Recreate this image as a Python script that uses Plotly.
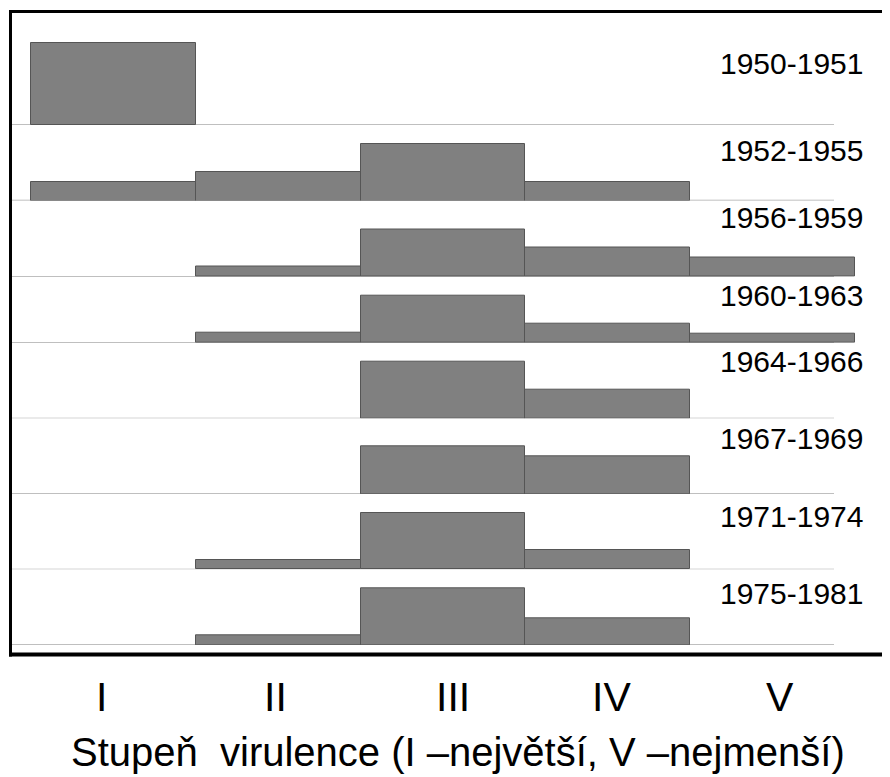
import plotly.graph_objects as go

# ---------------- data ----------------
periods = ["1950-1951", "1952-1955", "1956-1959", "1960-1963",
           "1964-1966", "1967-1969", "1971-1974", "1975-1981"]
grades = ["I", "II", "III", "IV", "V"]
grade_pos = [1, 2, 3, 4, 5]
axis_title = "Stupeň  virulence (I –největší, V –nejmenší)"

# relative share of virulence grades in each period (approx. %), None = absent
v_1950_1951 = [86, None, None, None, None]
v_1952_1955 = [19.3, 29.5, 59, 19.3, None]
v_1956_1959 = [None, 10.5, 50, 30.5, 20.5]
v_1960_1963 = [None, 10.5, 50, 20.5, 10]
v_1964_1966 = [None, None, 60, 30, None]
v_1967_1969 = [None, None, 50.5, 40, None]
v_1971_1974 = [None, 10, 59.5, 20.5, None]
v_1975_1981 = [None, 10, 59.5, 28.5, None]
series = [v_1950_1951, v_1952_1955, v_1956_1959, v_1960_1963,
          v_1964_1966, v_1967_1969, v_1971_1974, v_1975_1981]

# ---------------- layout geometry ----------------
# the html page body has an 8px margin, so the figure sits at (8, 8) in the window
PAGE = 8
W, H = 890 - PAGE, 777 - PAGE
ML, MR, MT = 10 - PAGE, 0, 11 - PAGE
plot_bottom_ref = 655
MB = H - (plot_bottom_ref - PAGE)
plot_h = H - MT - MB
plot_w = W - ML - MR

# positions below are in window pixels
row_top = [11, 125, 200.5, 276.7, 342.7, 418.3, 494, 569.3]
row_base = [125, 200.5, 276.7, 342.7, 418.3, 494, 569.3, 645]
label_cy = [63, 151, 217.3, 295.3, 361.3, 438, 516.3, 593]
PX_PER_UNIT = 0.95
bar_left_px, bar_w_px = 31, 164.8
baseline_end_px = 834
tick_px = [101.7, 275, 453.3, 611.7, 780]
tick_cy = 697
title_cx, title_cy = 458, 752


def py2paper(py):
    return (plot_bottom_ref - py) / plot_h


def px2paper(px):
    return (px - PAGE - ML) / plot_w


def px2x(px):
    return 1 + (px - (bar_left_px + bar_w_px / 2)) / bar_w_px


x_lo, x_hi = px2x(ML + PAGE), px2x(W + PAGE - MR)

FONT = "Liberation Sans, Arial, Helvetica, sans-serif"
BAR = "#808080"
EDGE = "#555555"

fig = go.Figure()
layout_axes = {}
shapes = []
annotations = []

for i, (name, vals) in enumerate(zip(periods, series)):
    yname = "y" if i == 0 else f"y{i + 1}"
    ykey = "yaxis" if i == 0 else f"yaxis{i + 1}"
    fig.add_trace(go.Bar(
        x=grade_pos, y=vals, name=name, xaxis="x", yaxis=yname,
        width=1, marker=dict(color=BAR, line=dict(color=EDGE, width=1)),
        showlegend=False, hoverinfo="skip",
    ))
    layout_axes[ykey] = dict(
        domain=[py2paper(row_base[i]), py2paper(row_top[i])],
        range=[0, (row_base[i] - row_top[i]) / PX_PER_UNIT],
        visible=False, fixedrange=True, anchor="x",
    )
    shapes.append(dict(type="line", xref="x", yref=yname,
                       x0=x_lo, x1=px2x(baseline_end_px), y0=0, y1=0,
                       line=dict(color="#aaaaaa", width=1.3), layer="below"))
    annotations.append(dict(text=name, xref="paper", yref="paper",
                            x=px2paper(865), y=py2paper(label_cy[i]),
                            xanchor="right", yanchor="middle", showarrow=False,
                            font=dict(family=FONT, size=30, color="black")))

for lab, px in zip(grades, tick_px):
    annotations.append(dict(text=lab, xref="paper", yref="paper",
                            x=px2paper(px), y=py2paper(tick_cy),
                            xanchor="center", yanchor="middle", showarrow=False,
                            font=dict(family=FONT, size=41, color="black")))

annotations.append(dict(text=axis_title, xref="paper", yref="paper",
                        x=px2paper(title_cx), y=py2paper(title_cy),
                        xanchor="center", yanchor="middle", showarrow=False,
                        font=dict(family=FONT, size=40, color="black")))

# frame (left, top, bottom)
shapes += [
    dict(type="line", xref="paper", yref="paper", x0=px2paper(10.5), x1=px2paper(10.5),
         y0=py2paper(656.5), y1=py2paper(10), line=dict(color="black", width=3)),
    dict(type="line", xref="paper", yref="paper", x0=px2paper(9), x1=1.0,
         y0=py2paper(11.5), y1=py2paper(11.5), line=dict(color="black", width=3)),
    dict(type="line", xref="paper", yref="paper", x0=px2paper(9), x1=1.0,
         y0=py2paper(654.5), y1=py2paper(654.5), line=dict(color="black", width=4)),
]

fig.update_layout(
    width=W, height=H,
    margin=dict(l=ML, r=MR, t=MT, b=MB, pad=0),
    paper_bgcolor="white", plot_bgcolor="white",
    bargap=0, barmode="overlay",
    xaxis=dict(range=[x_lo, x_hi], visible=False, fixedrange=True, anchor="y8"),
    shapes=shapes, annotations=annotations,
    showlegend=False,
    **layout_axes,
)

fig.write_html("out.html")
